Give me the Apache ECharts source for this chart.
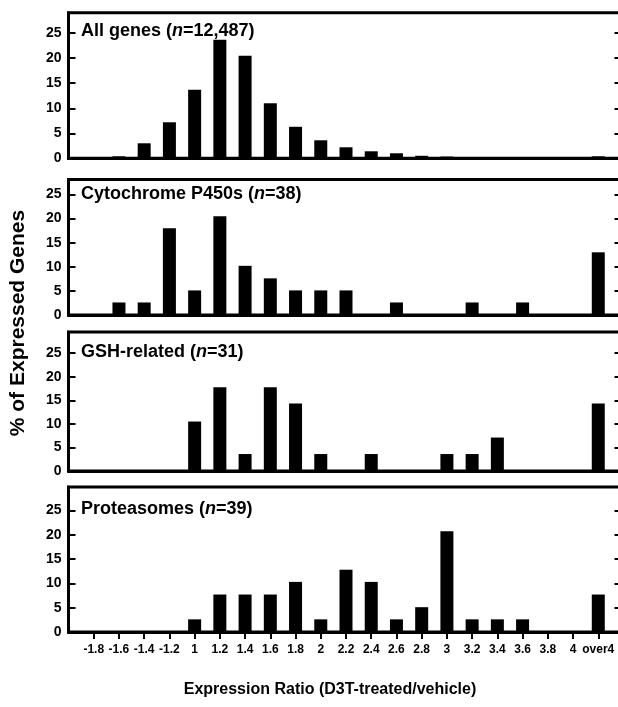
<!DOCTYPE html>
<html>
<head>
<meta charset="utf-8">
<script src="https://cdn.jsdelivr.net/npm/echarts@6/dist/echarts.min.js"></script>
<style>
html,body{margin:0;padding:0;background:#fff;}
#chart{width:618px;height:707px;}
</style>
</head>
<body>
<div id="chart"></div>
<script>
// ---- data ----
const categories = ['-1.8','-1.6','-1.4','-1.2','1','1.2','1.4','1.6','1.8','2','2.2','2.4','2.6','2.8','3','3.2','3.4','3.6','3.8','4','over4'];
const allGenes      = [0, 0.4, 3.0, 7.2, 13.7, 23.7, 20.5, 11.0, 6.3, 3.6, 2.2, 1.4, 1.0, 0.5, 0.35, 0.2, 0, 0, 0, 0, 0.4];
const cytochromeP450 = [0, 2.6, 2.6, 18.0, 5.1, 20.5, 10.2, 7.6, 5.1, 5.1, 5.1, 0, 2.6, 0, 0, 2.6, 0, 2.6, 0, 0, 13.0];
const gshRelated    = [0, 0, 0, 0, 10.5, 17.8, 3.6, 17.8, 14.3, 3.6, 0, 3.6, 0, 0, 3.6, 3.6, 7.1, 0, 0, 0, 14.3];
const proteasomes   = [0, 0, 0, 0, 2.6, 7.7, 7.7, 7.7, 10.3, 2.6, 12.8, 10.3, 2.6, 5.1, 20.7, 2.6, 2.6, 2.6, 0, 0, 7.7];
const panelNames = ['All genes', 'Cytochrome P450s', 'GSH-related', 'Proteasomes'];
const panelN     = ['12,487', '38', '31', '39'];
const yTickValues = [0, 5, 10, 15, 20, 25];
const yRightTickValues = [5, 10, 15, 20, 25];
const xAxisTitle = 'Expression Ratio (D3T-treated/vehicle)';
const yAxisTitle = '% of Expressed Genes';

// ---- layout ----
const seriesList = [allGenes, cytochromeP450, gshRelated, proteasomes];
const layout = [
  {top: 12.7,  bottom: 158.3, max: 29.1, titleY: 31.5},
  {top: 179.5, bottom: 315.0, max: 28.1, titleY: 194},
  {top: 332.0, bottom: 471.0, max: 29.5, titleY: 352},
  {top: 487.0, bottom: 632.0, max: 29.8, titleY: 509}
];
const gridLeft = 68.5, gridRightEdge = 623.5;
const FONT = '"Liberation Sans", Arial, sans-serif';
const catIdx = categories.map((c, i) => i);

const grids = [], xAxes = [], yAxes = [], series = [], titles = [];
layout.forEach((p, k) => {
  grids.push({
    left: gridLeft, top: p.top, width: gridRightEdge - gridLeft, height: p.bottom - p.top,
    outerBoundsMode: 'none', containLabel: false,
    show: true, borderColor: '#000', borderWidth: 3, backgroundColor: 'transparent'
  });
  const last = k === layout.length - 1;
  xAxes.push({
    type: 'value', gridIndex: k, min: -1, max: 21, interval: 1,
    axisLine: {show: true, onZero: false, lineStyle: {color: '#000', width: 3}},
    axisTick: {show: last, inside: false, length: 7, customValues: catIdx, lineStyle: {color: '#000', width: 2}},
    axisLabel: {
      show: last, customValues: catIdx, margin: 12,
      color: '#000', fontFamily: FONT, fontWeight: 'bold', fontSize: 12,
      formatter: v => (categories[v] !== undefined ? categories[v] : '')
    },
    splitLine: {show: false}
  });
  yAxes.push({
    type: 'value', gridIndex: k, min: 0, max: p.max, position: 'left',
    axisLine: {show: true, onZero: false, lineStyle: {color: '#000', width: 3}},
    axisTick: {show: true, inside: true, length: 7, customValues: yTickValues, lineStyle: {color: '#000', width: 2}},
    axisLabel: {show: true, customValues: yTickValues, margin: 7, color: '#000', fontFamily: FONT, fontWeight: 'bold', fontSize: 14},
    splitLine: {show: false}
  });
  yAxes.push({
    type: 'value', gridIndex: k, min: 0, max: p.max, position: 'right',
    axisLine: {show: true, onZero: false, lineStyle: {color: '#000', width: 3}},
    axisTick: {show: true, inside: true, length: 9, customValues: yRightTickValues, lineStyle: {color: '#000', width: 2}},
    axisLabel: {show: false},
    splitLine: {show: false}
  });
  series.push({
    type: 'bar', xAxisIndex: k, yAxisIndex: 2 * k, barWidth: 13,
    itemStyle: {color: '#000'}, silent: true, animation: false,
    data: seriesList[k].map((v, i) => [i, v])
  });
  titles.push({
    left: 81, top: p.titleY - 11, padding: 0,
    text: '{a|' + panelNames[k] + ' (}{i|n}{a|=' + panelN[k] + ')}',
    textStyle: {
      rich: {
        a: {fontFamily: FONT, fontWeight: 'bold', fontSize: 18, color: '#000', lineHeight: 22},
        i: {fontFamily: FONT, fontWeight: 'bold', fontStyle: 'italic', fontSize: 18, color: '#000', lineHeight: 22}
      }
    }
  });
});

const chart = echarts.init(document.getElementById('chart'), null, {renderer: 'canvas'});
chart.setOption({
  animation: false,
  backgroundColor: '#fff',
  title: titles,
  grid: grids,
  xAxis: xAxes,
  yAxis: yAxes,
  series: series,
  graphic: [
    {type: 'text', x: 330, y: 690, style: {text: xAxisTitle, font: 'bold 16px ' + FONT, fill: '#000', align: 'center', verticalAlign: 'middle'}},
    {type: 'text', x: 18, y: 323, rotation: Math.PI / 2, style: {text: yAxisTitle, font: 'bold 21px ' + FONT, fill: '#000', align: 'center', verticalAlign: 'middle'}}
  ]
});
</script>
</body>
</html>
